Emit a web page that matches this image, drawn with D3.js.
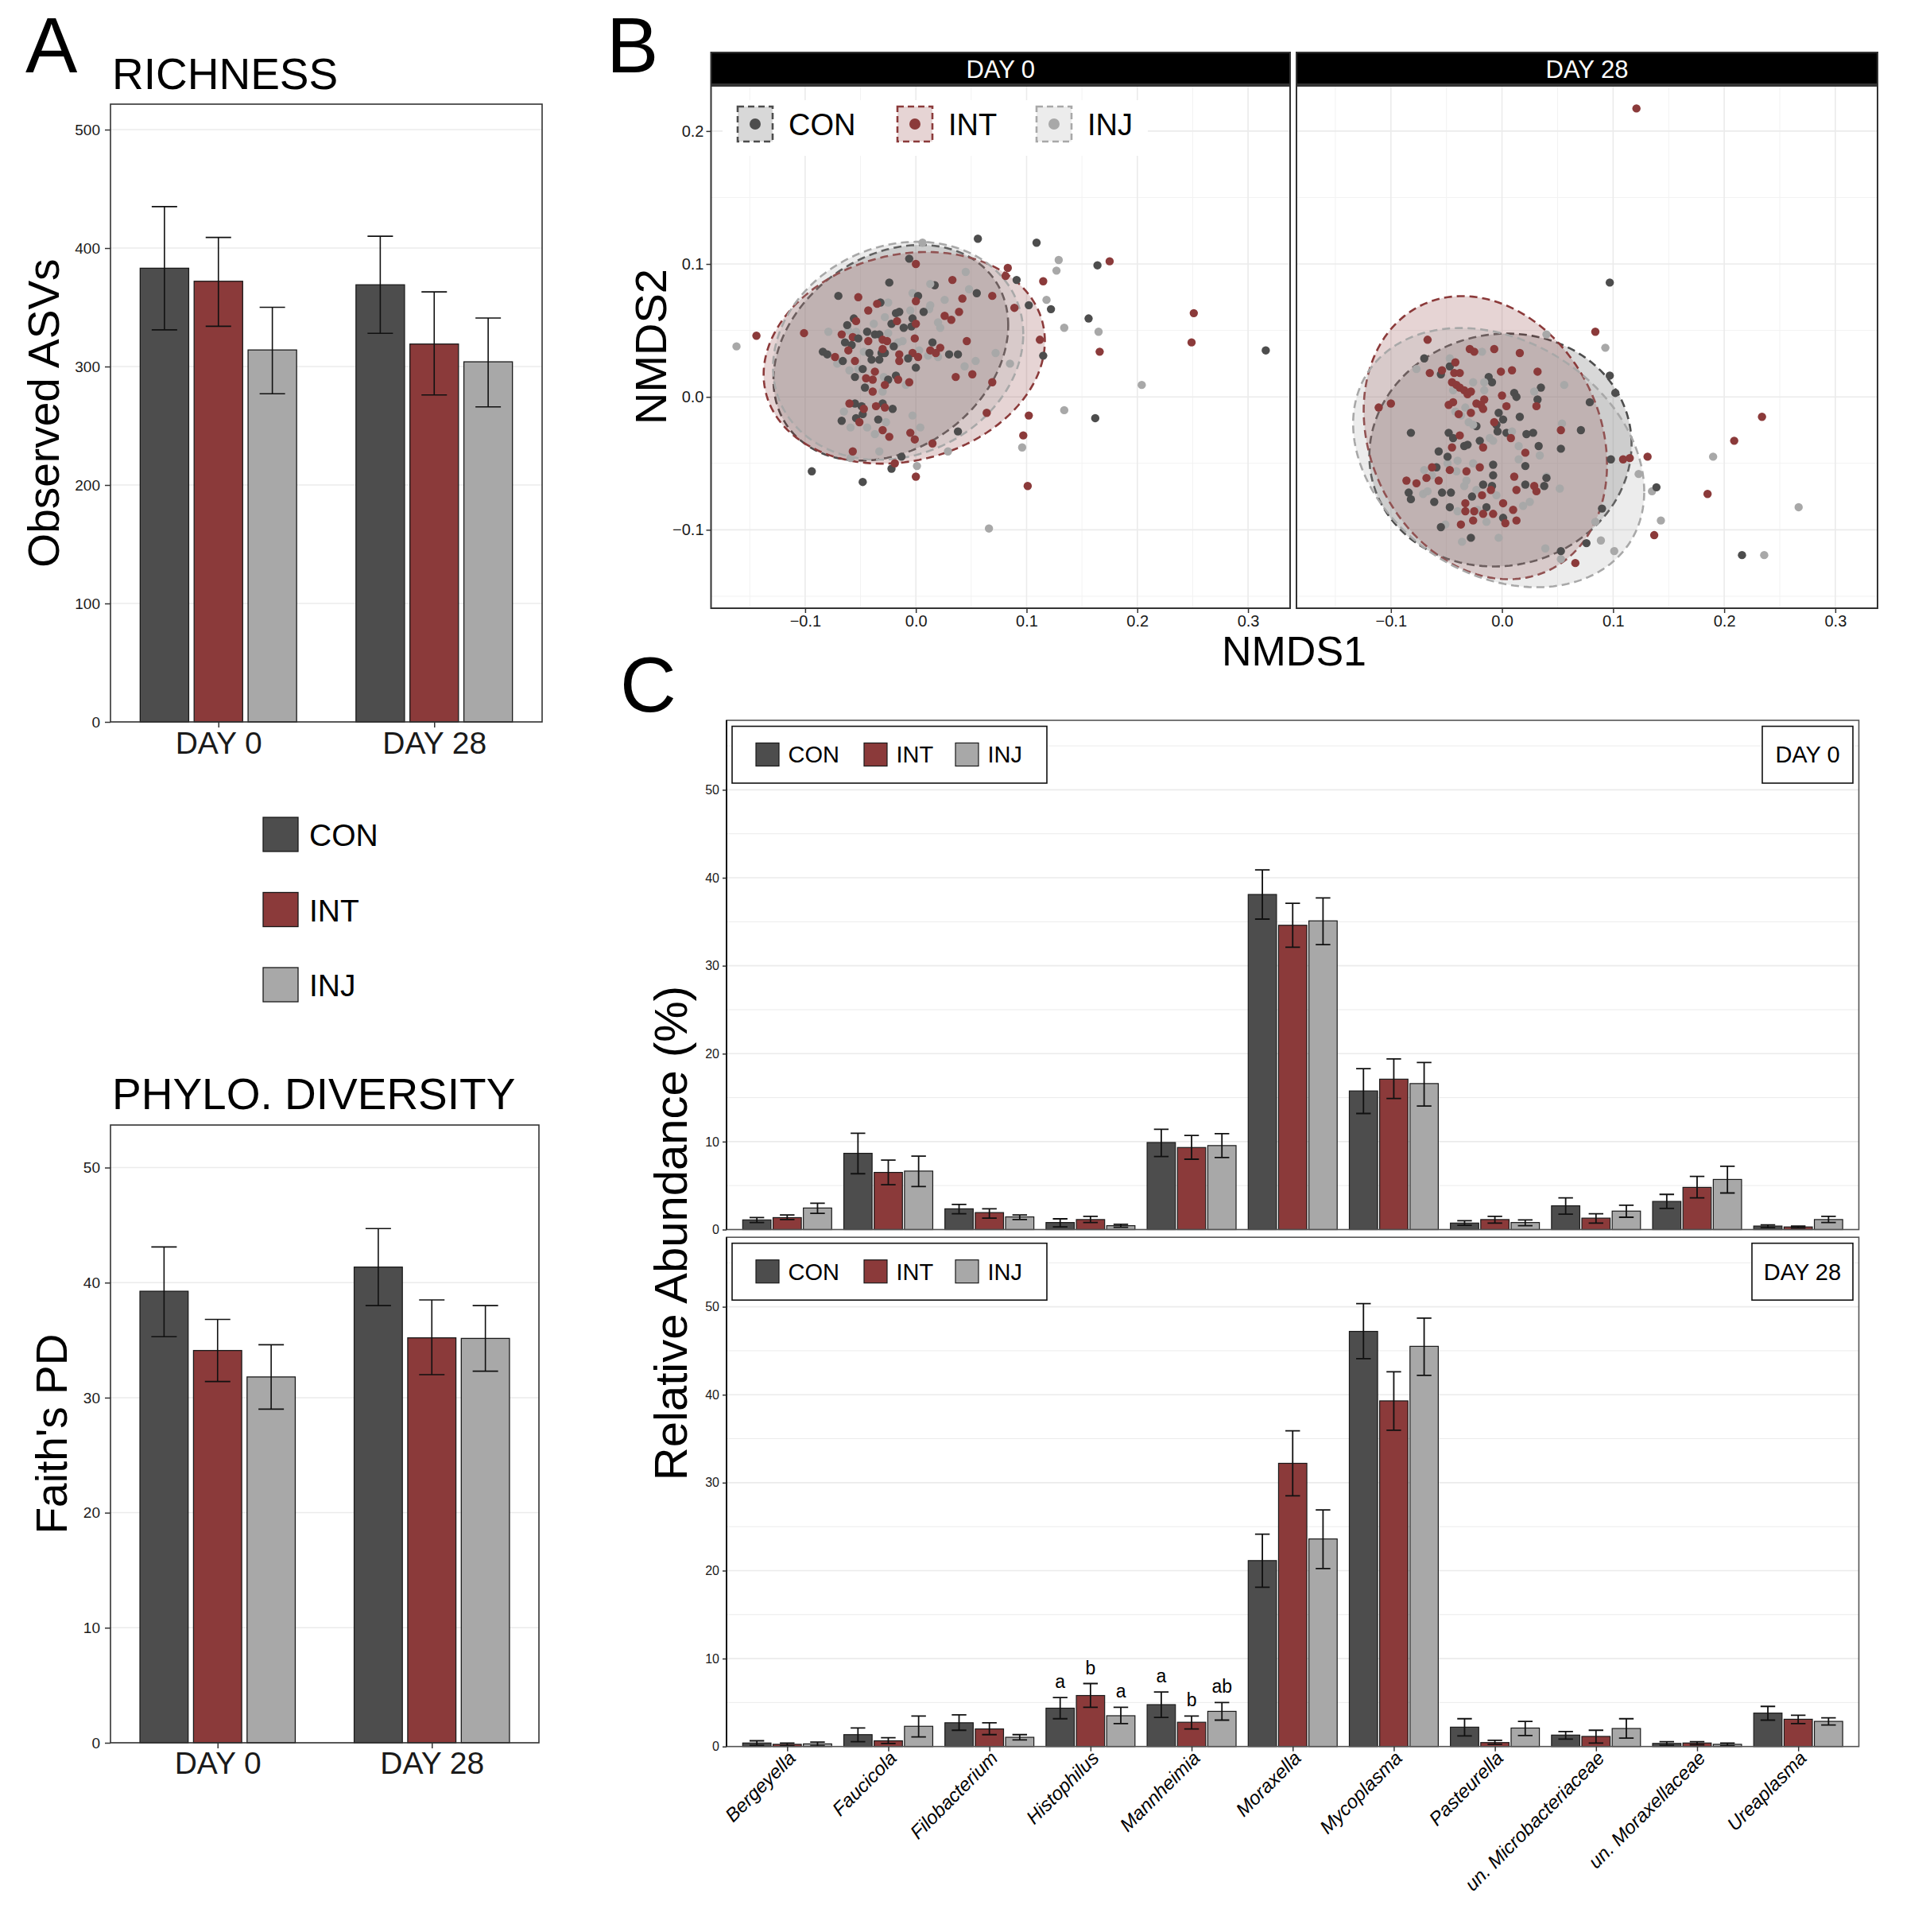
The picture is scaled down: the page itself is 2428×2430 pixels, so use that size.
<!DOCTYPE html>
<html>
<head>
<meta charset="utf-8">
<script src="https://cdnjs.cloudflare.com/ajax/libs/d3/7.8.5/d3.min.js"></script>
<style>
  body { margin: 0; background: #fff; }
  svg { font-family: "Liberation Sans", Arial, Helvetica, sans-serif; }
</style>
</head>
<body>
<div id="container"></div>
<script>
/* DATA */
const groups = ["CON", "INT", "INJ"]
const days = ["DAY 0", "DAY 28"]
const colors = { CON: "#4d4d4d", INT: "#8b3a3a", INJ: "#a8a8a8" }

// richness, per day [CON, INT, INJ]
const richMean = [[383, 372, 314], [369, 319, 304]]
const richLo = [[331, 334, 277], [328, 276, 266]]
const richHi = [[435, 409, 350], [410, 363, 341]]
const richTicks = [0, 100, 200, 300, 400, 500]

// faith's PD, per day [CON, INT, INJ]
const pdMean = [[39.25, 34.1, 31.8], [41.35, 35.2, 35.15]]
const pdLo = [[35.3, 31.4, 29.0], [38.0, 32.0, 32.3]]
const pdHi = [[43.1, 36.8, 34.6], [44.7, 38.5, 38.0]]
const pdTicks = [0, 10, 20, 30, 40, 50]

// NMDS points [NMDS1, NMDS2]
const nmds0CON = [[-0.006,0.104],[-0.024,0.086],[0.017,0.084],[-0.070,0.076],[0.055,0.078],[0.002,0.076],[0.091,0.088],[0.102,0.069],[-0.032,0.071],[-0.018,0.063],[-0.015,0.064],[0.007,0.064],[-0.003,0.059],[-0.056,0.059],[-0.011,0.052],[-0.004,0.053],[-0.022,0.055],[-0.062,0.054],[-0.044,0.049],[-0.037,0.047],[-0.033,0.047],[-0.052,0.044],[-0.064,0.041],[-0.058,0.039],[0.015,0.041],[-0.020,0.038],[-0.042,0.033],[-0.031,0.033],[-0.028,0.033],[-0.084,0.034],[-0.080,0.032],[-0.066,0.027],[-0.040,0.028],[-0.033,0.028],[-0.007,0.029],[0.030,0.032],[0.038,0.032],[-0.048,0.021],[0.000,0.022],[-0.055,0.015],[-0.018,0.016],[-0.025,0.013],[-0.046,0.007],[-0.055,-0.005],[-0.049,-0.007],[-0.030,-0.005],[-0.021,-0.009],[-0.048,-0.013],[-0.054,-0.016],[-0.067,-0.018],[-0.034,-0.017],[0.038,-0.026],[-0.013,-0.045],[-0.022,-0.054],[-0.094,-0.056],[-0.048,-0.064],[0.056,0.119],[0.109,0.116],[0.164,0.099],[0.122,0.066],[0.156,0.059],[0.115,0.031],[0.316,0.035],[0.162,-0.016]]
const nmds0INT = [[0.000,0.100],[0.083,0.097],[0.081,0.091],[0.033,0.088],[-0.052,0.075],[0.000,0.072],[0.042,0.074],[0.069,0.076],[-0.035,0.070],[-0.043,0.065],[0.039,0.064],[0.026,0.061],[0.032,0.058],[0.089,0.067],[-0.054,0.057],[0.000,0.055],[-0.017,0.057],[-0.101,0.048],[-0.144,0.046],[-0.067,0.047],[-0.057,0.045],[-0.043,0.042],[-0.030,0.043],[-0.026,0.042],[-0.001,0.044],[0.046,0.042],[0.022,0.037],[0.013,0.035],[0.018,0.033],[-0.030,0.036],[-0.061,0.035],[-0.015,0.032],[-0.003,0.033],[0.002,0.030],[-0.073,0.030],[-0.055,0.027],[-0.015,0.027],[-0.037,0.019],[-0.045,0.014],[-0.039,0.013],[-0.016,0.013],[-0.006,0.011],[-0.028,0.009],[0.036,0.015],[0.051,0.017],[0.069,0.011],[-0.039,0.004],[-0.060,-0.005],[-0.047,-0.009],[-0.036,-0.007],[-0.028,-0.008],[-0.051,-0.019],[-0.030,-0.025],[-0.024,-0.030],[-0.005,-0.027],[-0.001,-0.032],[0.015,-0.035],[0.064,-0.012],[0.102,-0.014],[0.097,-0.029],[-0.057,-0.041],[-0.019,-0.050],[0.000,-0.060],[0.101,-0.067],[0.175,0.102],[0.115,0.087],[0.251,0.063],[0.249,0.041],[0.166,0.034],[0.112,0.043]]
const nmds0INJ = [[0.006,0.116],[0.045,0.094],[0.013,0.085],[0.048,0.081],[-0.003,0.078],[0.026,0.073],[-0.025,0.071],[-0.005,0.065],[0.012,0.066],[0.013,0.069],[-0.028,0.060],[0.020,0.056],[0.022,0.052],[-0.079,0.049],[-0.061,0.050],[-0.054,0.049],[-0.038,0.055],[-0.025,0.048],[-0.012,0.042],[-0.016,0.041],[-0.047,0.034],[0.003,0.035],[0.011,0.031],[0.020,0.030],[0.072,0.033],[0.054,0.027],[0.085,0.025],[0.044,0.023],[-0.071,0.025],[-0.060,0.020],[-0.052,0.021],[-0.029,0.015],[-0.009,0.009],[-0.030,0.004],[-0.065,-0.011],[-0.059,-0.023],[-0.044,-0.023],[-0.037,-0.028],[-0.027,-0.019],[-0.003,-0.014],[0.004,-0.023],[0.029,-0.041],[-0.033,-0.041],[-0.059,-0.046],[0.001,-0.052],[0.096,-0.038],[-0.162,0.038],[0.129,0.103],[0.127,0.095],[0.118,0.073],[0.134,0.052],[0.165,0.049],[0.204,0.009],[0.134,-0.010],[0.066,-0.099]]
const nmds28CON = [[-0.070,0.029],[-0.047,0.023],[-0.055,0.017],[-0.012,0.015],[-0.009,0.011],[0.035,0.007],[0.011,0.003],[0.013,0.000],[0.032,-0.002],[0.079,-0.004],[-0.003,-0.012],[0.001,-0.017],[0.016,-0.015],[-0.005,-0.021],[-0.023,-0.022],[-0.004,-0.026],[0.004,-0.027],[0.022,-0.028],[0.028,-0.027],[-0.082,-0.027],[-0.048,-0.027],[-0.044,-0.031],[-0.020,-0.033],[-0.034,-0.037],[-0.031,-0.036],[0.033,-0.037],[0.053,-0.039],[0.071,-0.025],[-0.057,-0.041],[-0.049,-0.045],[-0.008,-0.051],[0.021,-0.052],[-0.059,-0.053],[0.098,-0.047],[-0.008,-0.059],[-0.017,-0.066],[-0.009,-0.067],[0.021,-0.066],[0.038,-0.067],[-0.084,-0.072],[-0.082,-0.077],[-0.054,-0.072],[-0.046,-0.072],[-0.061,-0.079],[-0.027,-0.075],[-0.047,-0.083],[-0.014,-0.083],[0.001,-0.091],[-0.055,-0.098],[-0.028,-0.106],[0.090,-0.084],[0.076,-0.110],[0.053,-0.116],[0.097,0.016],[0.102,0.003],[0.040,-0.061],[0.097,0.086],[0.139,-0.068],[0.216,-0.119]]
const nmds28INT = [[0.084,0.049],[-0.067,0.043],[-0.029,0.036],[-0.025,0.034],[-0.007,0.036],[0.016,0.033],[-0.042,0.026],[-0.054,0.020],[-0.065,0.018],[-0.043,0.018],[-0.038,0.018],[-0.001,0.019],[0.009,0.020],[0.032,0.019],[-0.045,0.011],[-0.041,0.009],[-0.038,0.007],[-0.034,0.005],[-0.031,0.002],[-0.028,0.004],[0.000,0.001],[-0.016,-0.002],[-0.048,-0.006],[-0.044,-0.004],[-0.023,-0.005],[-0.019,-0.006],[-0.017,-0.009],[0.004,-0.007],[0.031,-0.007],[-0.039,-0.013],[-0.028,-0.012],[-0.007,-0.019],[-0.038,-0.029],[-0.045,-0.038],[-0.017,-0.038],[0.008,-0.031],[0.021,-0.042],[0.053,-0.025],[-0.063,-0.053],[-0.047,-0.055],[-0.032,-0.056],[-0.020,-0.053],[-0.086,-0.063],[-0.077,-0.065],[-0.068,-0.061],[-0.057,-0.063],[0.011,-0.060],[0.013,-0.070],[0.029,-0.067],[0.031,-0.071],[-0.018,-0.074],[-0.010,-0.070],[0.001,-0.080],[-0.033,-0.080],[-0.033,-0.086],[-0.025,-0.086],[-0.017,-0.088],[-0.008,-0.088],[0.010,-0.085],[-0.026,-0.093],[-0.037,-0.096],[0.003,-0.095],[0.013,-0.093],[0.109,-0.047],[0.115,-0.046],[-0.111,-0.008],[-0.100,-0.005],[0.066,-0.125],[0.121,0.217],[0.234,-0.015],[0.209,-0.033],[0.185,-0.073],[0.131,-0.045],[0.137,-0.104]]
const nmds28INJ = [[0.040,0.047],[0.093,0.037],[-0.018,0.034],[-0.047,0.029],[-0.077,0.021],[-0.026,0.011],[-0.016,0.011],[-0.016,0.005],[-0.044,0.005],[0.029,0.004],[0.056,0.009],[-0.033,-0.008],[-0.042,-0.011],[-0.037,-0.014],[-0.030,-0.019],[-0.026,-0.021],[-0.011,-0.031],[-0.008,-0.033],[0.009,-0.026],[0.015,-0.037],[0.034,-0.044],[0.015,-0.047],[0.054,-0.020],[-0.040,-0.048],[-0.026,-0.050],[-0.049,-0.050],[-0.070,-0.055],[-0.063,-0.059],[-0.041,-0.056],[-0.032,-0.063],[-0.034,-0.067],[-0.023,-0.070],[-0.005,-0.074],[-0.071,-0.073],[-0.067,-0.071],[0.040,-0.060],[0.052,-0.069],[0.019,-0.082],[0.025,-0.079],[-0.040,-0.086],[-0.022,-0.085],[-0.014,-0.094],[-0.051,-0.096],[-0.036,-0.109],[-0.003,-0.106],[0.039,-0.114],[0.053,-0.122],[0.084,-0.094],[0.089,-0.108],[0.101,-0.116],[0.123,-0.058],[0.190,-0.045],[0.135,-0.071],[0.143,-0.093],[0.267,-0.083],[0.236,-0.119]]

// ellipse shapes: centre, half extents and correlation (data units)
const ellipses0 = [
  { group: "CON", cx: -0.0226, cy: 0.0332, sx: 0.106, sy: 0.0811, r: 0.254 },
  { group: "INT", cx: -0.0105, cy: 0.0294, sx: 0.127, sy: 0.0796, r: 0.158 },
  { group: "INJ", cx: -0.016, cy: 0.0347, sx: 0.113, sy: 0.082, r: 0.153 }
]
const ellipses28 = [
  { group: "CON", cx: -0.0014, cy: -0.040, sx: 0.118, sy: 0.0876, r: 0.05 },
  { group: "INT", cx: -0.015, cy: -0.0307, sx: 0.1095, sy: 0.1065, r: -0.191 },
  { group: "INJ", cx: -0.003, cy: -0.0457, sx: 0.131, sy: 0.0975, r: -0.262 }
]
const nmdsXTicks = [-0.1, 0, 0.1, 0.2, 0.3]
const nmdsYTicks = [-0.1, 0, 0.1, 0.2]

// relative abundance, per taxon [CON, INT, INJ]
const taxa = ["Bergeyella", "Faucicola", "Filobacterium", "Histophilus", "Mannheimia", "Moraxella",
  "Mycoplasma", "Pasteurella", "un. Microbacteriaceae", "un. Moraxellaceae", "Ureaplasma"]
const day0Mean = [[1.1,1.36,2.45],[8.67,6.5,6.65],[2.36,1.93,1.44],[0.8,1.14,0.44],[9.9,9.33,9.55],[38.1,34.6,35.1],[15.76,17.1,16.6],[0.74,1.14,0.8],[2.7,1.3,2.1],[3.2,4.8,5.7],[0.4,0.3,1.14]]
const day0Lo = [[0.8,1.14,1.85],[6.35,5.1,4.9],[1.8,1.3,1.14],[0.3,0.8,0.26],[8.3,8.0,8.2],[35.3,32.1,32.4],[13.2,14.9,14.05],[0.48,0.74,0.44],[1.75,0.74,1.4],[2.4,3.6,4.16],[0.22,0.18,0.8]]
const day0Hi = [[1.36,1.66,3.0],[10.95,7.9,8.35],[2.85,2.36,1.66],[1.22,1.5,0.6],[11.4,10.7,10.9],[40.9,37.1,37.7],[18.3,19.4,19.0],[1.0,1.5,1.1],[3.6,1.8,2.76],[4.0,6.05,7.2],[0.53,0.4,1.5]]
const day28Mean = [[0.4,0.25,0.3],[1.35,0.65,2.3],[2.7,2.0,1.05],[4.36,5.8,3.5],[4.76,2.76,4.0],[21.14,32.2,23.6],[47.2,39.3,45.5],[2.2,0.45,2.1],[1.3,1.15,2.05],[0.35,0.4,0.25],[3.8,3.1,2.86]]
const day28Lo = [[0.15,0.1,0.1],[0.55,0.35,1.1],[1.85,1.35,0.75],[3.16,4.46,2.6],[3.3,2.0,3.0],[18.1,28.5,20.24],[44.1,35.97,42.2],[1.2,0.25,1.25],[0.85,0.4,0.95],[0.15,0.2,0.1],[3.0,2.6,2.45]]
const day28Hi = [[0.65,0.4,0.5],[2.1,1.0,3.46],[3.6,2.7,1.35],[5.56,7.16,4.46],[6.2,3.46,5.0],[24.15,35.9,26.9],[50.35,42.6,48.7],[3.16,0.7,2.86],[1.7,1.85,3.16],[0.55,0.55,0.4],[4.56,3.56,3.26]]
const sigTaxa = ["Histophilus", "Mannheimia"]
const sigLetters = [["a", "b", "a"], ["a", "b", "ab"]]
const abundTicks = [0, 10, 20, 30, 40, 50]

/* SVG */
const svg = d3.select("#container")
  .append("svg")
    .attr("width", 2428)
    .attr("height", 2430)

const grid = "#ebebeb"
const frame = "#333333"

function label(txt, x, y, size, opts = {}) {
  return svg.append("text")
    .attr("x", x).attr("y", y)
    .attr("font-size", size)
    .attr("text-anchor", opts.anchor || "start")
    .attr("transform", opts.rotate ? `rotate(${opts.rotate},${x},${y})` : null)
    .attr("fill", opts.fill || "#000")
    .text(txt)
}

function styleAxis(g, size) {
  g.select(".domain").remove()
  g.selectAll(".tick line").attr("stroke", frame).attr("stroke-width", 1.5)
  g.selectAll(".tick text").attr("font-size", size).attr("fill", "#1a1a1a")
    .attr("font-family", "'Liberation Sans', Arial, sans-serif")
}

/* PANEL A : BAR CHARTS */
function barPanel(p) {
  const x = d3.scalePoint().domain(days).range([p.left, p.right]).padding(0.5)
  const step = x.step()
  const xg = d3.scaleBand().domain(groups)
    .range([-0.375 * step, 0.375 * step]).paddingInner(0.1).paddingOuter(0.05)
  const y = d3.scaleLinear().domain([0, p.yMax]).range([p.bottom, p.top])

  const g = svg.append("g")
  g.selectAll(".hgrid").data(p.ticks).join("line")
    .attr("x1", p.left).attr("x2", p.right)
    .attr("y1", d => y(d)).attr("y2", d => y(d))
    .attr("stroke", grid).attr("stroke-width", 1.5)

  const rows = days.flatMap((day, i) => groups.map((grp, j) =>
    ({ day, grp, mean: p.mean[i][j], lo: p.lo[i][j], hi: p.hi[i][j] })))

  g.selectAll(".bar").data(rows).join("rect")
    .attr("x", d => x(d.day) + xg(d.grp))
    .attr("width", xg.bandwidth())
    .attr("y", d => y(d.mean))
    .attr("height", d => y(0) - y(d.mean))
    .attr("fill", d => colors[d.grp])
    .attr("stroke", "#1a1a1a").attr("stroke-width", 1.3)

  const cx = d => x(d.day) + xg(d.grp) + xg.bandwidth() / 2
  const cap = 16
  g.selectAll(".err").data(rows).join("path")
    .attr("d", d => `M${cx(d) - cap},${y(d.hi)}H${cx(d) + cap}M${cx(d)},${y(d.hi)}V${y(d.lo)}M${cx(d) - cap},${y(d.lo)}H${cx(d) + cap}`)
    .attr("fill", "none").attr("stroke", "#111").attr("stroke-width", 1.6)

  g.append("rect")
    .attr("x", p.left).attr("y", p.top)
    .attr("width", p.right - p.left).attr("height", p.bottom - p.top)
    .attr("fill", "none").attr("stroke", frame).attr("stroke-width", 1.6)

  const ax = svg.append("g").attr("transform", `translate(${p.left},0)`)
    .call(d3.axisLeft(y).tickValues(p.ticks).tickSize(7).tickPadding(6))
  styleAxis(ax, 19)
  const bx = svg.append("g").attr("transform", `translate(0,${p.bottom})`)
    .call(d3.axisBottom(x).tickSize(7).tickPadding(p.xPad))
  styleAxis(bx, 39)

  label(p.title, 141, p.titleY, 55)
  label(p.yTitle, p.yTitleX, (p.top + p.bottom) / 2, 55, { anchor: "middle", rotate: -90 })
}

barPanel({ left: 139, right: 682, top: 131, bottom: 908, yMax: 521.5, ticks: richTicks,
  mean: richMean, lo: richLo, hi: richHi, xPad: 5,
  title: "RICHNESS", titleY: 112, yTitle: "Observed ASVs", yTitleX: 74 })

barPanel({ left: 139, right: 678, top: 1415, bottom: 2192, yMax: 53.7, ticks: pdTicks,
  mean: pdMean, lo: pdLo, hi: pdHi, xPad: 4,
  title: "PHYLO. DIVERSITY", titleY: 1395, yTitle: "Faith's PD", yTitleX: 84 })

// shared legend for A
const legA = svg.append("g")
groups.forEach((grp, i) => {
  legA.append("rect")
    .attr("x", 331).attr("y", 1028 + i * 94.5).attr("width", 44).attr("height", 43)
    .attr("fill", colors[grp]).attr("stroke", "#1a1a1a").attr("stroke-width", 1.3)
  legA.append("text")
    .attr("x", 389).attr("y", 1050 + i * 94.5).attr("dy", "0.36em")
    .attr("font-size", 39).text(grp)
})

/* PANEL B : NMDS */
function nmdsPanel(left, right, day, sets, ells, first) {
  const top = 108, bottom = 765
  const x = d3.scaleLinear().domain([-0.185, 0.338]).range([left, right])
  const y = d3.scaleLinear().domain([-0.159, 0.234]).range([bottom, top])
  const g = svg.append("g")

  const minorX = [-0.15, -0.05, 0.05, 0.15, 0.25]
  const minorY = [-0.15, -0.05, 0.05, 0.15]
  g.selectAll(".mx").data(minorX).join("line")
    .attr("x1", d => x(d)).attr("x2", d => x(d)).attr("y1", top).attr("y2", bottom)
    .attr("stroke", "#f2f2f2").attr("stroke-width", 1)
  g.selectAll(".my").data(minorY).join("line")
    .attr("y1", d => y(d)).attr("y2", d => y(d)).attr("x1", left).attr("x2", right)
    .attr("stroke", "#f2f2f2").attr("stroke-width", 1)
  g.selectAll(".gx").data(nmdsXTicks).join("line")
    .attr("x1", d => x(d)).attr("x2", d => x(d)).attr("y1", top).attr("y2", bottom)
    .attr("stroke", grid).attr("stroke-width", 1.6)
  g.selectAll(".gy").data(nmdsYTicks).join("line")
    .attr("y1", d => y(d)).attr("y2", d => y(d)).attr("x1", left).attr("x2", right)
    .attr("stroke", grid).attr("stroke-width", 1.6)

  // ellipses
  const ts = d3.range(0, 2 * Math.PI, Math.PI / 90)
  const path = d3.line().x(d => x(d[0])).y(d => y(d[1])).curve(d3.curveLinearClosed)
  g.selectAll(".ell").data(ells).join("path")
    .attr("d", e => path(ts.map(t => [
      e.cx + e.sx * Math.cos(t),
      e.cy + e.sy * (e.r * Math.cos(t) + Math.sqrt(1 - e.r * e.r) * Math.sin(t))
    ])))
    .attr("fill", e => colors[e.group]).attr("fill-opacity", 0.22)
    .attr("stroke", e => colors[e.group]).attr("stroke-width", 2.6)
    .attr("stroke-dasharray", "10,6")

  // points, interleaved by sample order
  const pts = []
  const n = d3.max(groups, grp => sets[grp].length)
  for (let i = 0; i < n; i++) {
    groups.forEach(grp => { if (sets[grp][i]) pts.push({ grp, v: sets[grp][i] }) })
  }
  g.selectAll(".pt").data(pts).join("circle")
    .attr("cx", d => x(d.v[0])).attr("cy", d => y(d.v[1])).attr("r", 5.2)
    .attr("fill", d => colors[d.grp])

  g.append("rect")
    .attr("x", left).attr("y", top).attr("width", right - left).attr("height", bottom - top)
    .attr("fill", "none").attr("stroke", frame).attr("stroke-width", 2)

  // strip
  svg.append("rect")
    .attr("x", left).attr("y", 66).attr("width", right - left).attr("height", 40)
    .attr("fill", "#000").attr("stroke", frame).attr("stroke-width", 2)
  label(day, (left + right) / 2, 98, 31, { anchor: "middle", fill: "#fff" })

  const bx = svg.append("g").attr("transform", `translate(0,${bottom})`)
    .call(d3.axisBottom(x).tickValues(nmdsXTicks).tickSize(6).tickPadding(3).tickFormat(d3.format(".1f")))
  styleAxis(bx, 20)

  if (first) {
    const ax = svg.append("g").attr("transform", `translate(${left},0)`)
      .call(d3.axisLeft(y).tickValues(nmdsYTicks).tickSize(6).tickPadding(3).tickFormat(d3.format(".1f")))
    styleAxis(ax, 20)

    // legend
    const leg = svg.append("g")
    leg.append("rect").attr("x", 909).attr("y", 126).attr("width", 535).attr("height", 70).attr("fill", "#fff")
    const keyX = [928, 1129, 1304]
    groups.forEach((grp, i) => {
      leg.append("rect")
        .attr("x", keyX[i]).attr("y", 134).attr("width", 44).attr("height", 44)
        .attr("fill", colors[grp]).attr("fill-opacity", 0.22)
        .attr("stroke", colors[grp]).attr("stroke-width", 2.6).attr("stroke-dasharray", "8,5")
      leg.append("circle")
        .attr("cx", keyX[i] + 22).attr("cy", 156).attr("r", 7).attr("fill", colors[grp])
      leg.append("text")
        .attr("x", keyX[i] + 64).attr("y", 156).attr("dy", "0.36em")
        .attr("font-size", 38).text(grp)
    })
  }
}

nmdsPanel(894.5, 1623, "DAY 0", { CON: nmds0CON, INT: nmds0INT, INJ: nmds0INJ }, ellipses0, true)
nmdsPanel(1631, 2362, "DAY 28", { CON: nmds28CON, INT: nmds28INT, INJ: nmds28INJ }, ellipses28, false)

label("NMDS2", 838, 436, 56, { anchor: "middle", rotate: -90 })
label("NMDS1", 1628, 837, 52, { anchor: "middle" })

/* PANEL C : RELATIVE ABUNDANCE */
function abundPanel(top, bottom, day, mean, lo, hi, showX) {
  const left = 914, right = 2338.5
  const x = d3.scalePoint().domain(taxa).range([left, right]).padding(0.6)
  const step = x.step()
  const xg = d3.scaleBand().domain(groups)
    .range([-0.45 * step, 0.45 * step]).paddingInner(0.067).paddingOuter(0.0335)
  const y = d3.scaleLinear().domain([0, 57.9]).range([bottom, top])
  const g = svg.append("g")

  g.selectAll(".hgrid").data(d3.range(0, 56, 5)).join("line")
    .attr("x1", left).attr("x2", right)
    .attr("y1", d => y(d)).attr("y2", d => y(d))
    .attr("stroke", grid).attr("stroke-width", d => d % 10 === 0 ? 1.6 : 1)

  const rows = taxa.flatMap((tx, i) => groups.map((grp, j) =>
    ({ tx, grp, mean: mean[i][j], lo: lo[i][j], hi: hi[i][j] })))

  g.selectAll(".bar").data(rows).join("rect")
    .attr("x", d => x(d.tx) + xg(d.grp))
    .attr("width", xg.bandwidth())
    .attr("y", d => y(d.mean))
    .attr("height", d => y(0) - y(d.mean))
    .attr("fill", d => colors[d.grp])
    .attr("stroke", "#1a1a1a").attr("stroke-width", 1.2)

  const cx = d => x(d.tx) + xg(d.grp) + xg.bandwidth() / 2
  const cap = 9.2
  g.selectAll(".err").data(rows).join("path")
    .attr("d", d => `M${cx(d) - cap},${y(d.hi)}H${cx(d) + cap}M${cx(d)},${y(d.hi)}V${y(d.lo)}M${cx(d) - cap},${y(d.lo)}H${cx(d) + cap}`)
    .attr("fill", "none").attr("stroke", "#111").attr("stroke-width", 1.8)

  if (showX) {
    const sig = rows.filter(d => sigTaxa.includes(d.tx))
    g.selectAll(".sig").data(sig).join("text")
      .attr("x", d => cx(d)).attr("y", d => y(d.hi + 1.08))
      .attr("text-anchor", "middle").attr("font-size", 23)
      .text(d => sigLetters[sigTaxa.indexOf(d.tx)][groups.indexOf(d.grp)])
  }

  g.append("rect")
    .attr("x", left).attr("y", top).attr("width", right - left).attr("height", bottom - top)
    .attr("fill", "none").attr("stroke", "#555").attr("stroke-width", 1.6)
  g.append("line").attr("x1", left).attr("x2", left).attr("y1", top).attr("y2", bottom)
    .attr("stroke", "#000").attr("stroke-width", 1.8)

  // legend box
  const leg = svg.append("g")
  leg.append("rect").attr("x", 921).attr("y", top + 7.5).attr("width", 396).attr("height", 71.5)
    .attr("fill", "#fff").attr("stroke", "#111").attr("stroke-width", 1.6)
  const keyX = [951, 1087, 1202]
  groups.forEach((grp, i) => {
    leg.append("rect").attr("x", keyX[i]).attr("y", top + 28.5).attr("width", 29).attr("height", 29)
      .attr("fill", colors[grp]).attr("stroke", "#1a1a1a").attr("stroke-width", 1.2)
    leg.append("text").attr("x", keyX[i] + 40.5).attr("y", top + 43).attr("dy", "0.36em")
      .attr("font-size", 29).text(grp)
  })
  const bx0 = day === "DAY 0" ? 2217 : 2204
  leg.append("rect").attr("x", bx0).attr("y", top + 7.5).attr("width", 2331 - bx0).attr("height", 71.5)
    .attr("fill", "#fff").attr("stroke", "#111").attr("stroke-width", 1.6)
  leg.append("text").attr("x", (bx0 + 2331) / 2).attr("y", top + 43).attr("dy", "0.36em")
    .attr("text-anchor", "middle").attr("font-size", 29).text(day)

  const ax = svg.append("g").attr("transform", `translate(${left},0)`)
    .call(d3.axisLeft(y).tickValues(abundTicks).tickSize(5).tickPadding(4))
  styleAxis(ax, 16)

  if (showX) {
    const bx = svg.append("g").attr("transform", `translate(0,${bottom})`)
      .call(d3.axisBottom(x).tickSize(6).tickFormat(""))
    styleAxis(bx, 24)
    svg.append("g").selectAll("text").data(taxa).join("text")
      .attr("transform", d => `translate(${x(d)},${bottom + 4}) rotate(-45)`)
      .attr("text-anchor", "end").attr("dy", "0.71em")
      .attr("font-size", 24).attr("font-style", "italic").text(d => d)
  }
}

abundPanel(906, 1546.5, "DAY 0", day0Mean, day0Lo, day0Hi, false)
abundPanel(1556.2, 2196.7, "DAY 28", day28Mean, day28Lo, day28Hi, true)

label("Relative Abundance (%)", 864, 1551, 58, { anchor: "middle", rotate: -90 })

/* PANEL LETTERS */
label("A", 32, 91, 98)
label("B", 763, 91, 98)
label("C", 780, 895, 98)
</script>
</body>
</html>
